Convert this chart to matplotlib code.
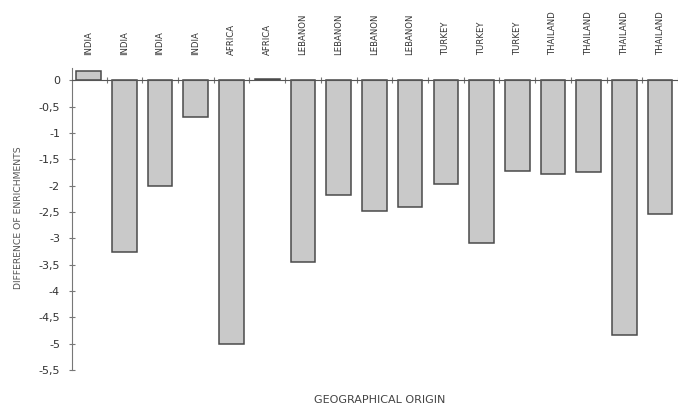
import matplotlib.pyplot as plt
import matplotlib.transforms as mtransforms
import numpy as np

origins = ["INDIA", "INDIA", "INDIA", "INDIA", "AFRICA", "AFRICA",
           "LEBANON", "LEBANON", "LEBANON", "LEBANON",
           "TURKEY", "TURKEY", "TURKEY",
           "THAILAND", "THAILAND", "THAILAND", "THAILAND"]
differences = [0.18, -3.25, -2.0, -0.70, -5.0, 0.02,
               -3.45, -2.17, -2.48, -2.40,
               -1.96, -3.09, -1.73,
               -1.78, -1.75, -4.83, -2.53]
y_ticks = [0, -0.5, -1, -1.5, -2, -2.5, -3, -3.5, -4, -4.5, -5, -5.5]

fig = plt.figure(figsize=(6.78, 4.05), dpi=100)
ax = fig.add_axes([0.106, 0.086, 0.894, 0.746])

x = np.arange(len(differences))
ax.bar(x, differences, width=0.69, color="#c9c9c9", edgecolor="#4a4a4a", linewidth=1.1, zorder=2)

ax.set_xlim(-0.47, 16.27)
ax.set_ylim(-5.5, 0.23)

# x axis sits at zero, small marks between the bars
ax.spines["bottom"].set_position(("data", 0))
ax.spines["bottom"].set_color("#555555")
ax.spines["left"].set_color("#777777")
ax.spines["top"].set_visible(False)
ax.spines["right"].set_visible(False)
ax.set_xticks(x + 0.5)
ax.set_xticklabels([])
ax.tick_params(axis="x", direction="inout", length=5, color="#777777")

ax.set_yticks(y_ticks)
ax.set_yticklabels([("%g" % v).replace(".", ",") for v in y_ticks])
ax.tick_params(axis="y", direction="inout", length=5, color="#777777",
               labelsize=8, labelcolor="#333333", pad=6)

# country names above each bar
trans = mtransforms.blended_transform_factory(ax.transData, ax.transAxes)
for i, name in enumerate(origins):
    ax.text(i, 1.043, name, transform=trans, rotation=90, ha="center", va="bottom",
            fontsize=6.1, color="#333333", clip_on=False)

fig.text(0.027, 0.462, "DIFFERENCE OF ENRICHMENTS", rotation=90, ha="center", va="center",
         fontsize=6.7, color="#555555")
fig.text(0.56, 0.012, "GEOGRAPHICAL ORIGIN", ha="center", va="center",
         fontsize=8, color="#444444")

fig.savefig("out.png", dpi=100)
